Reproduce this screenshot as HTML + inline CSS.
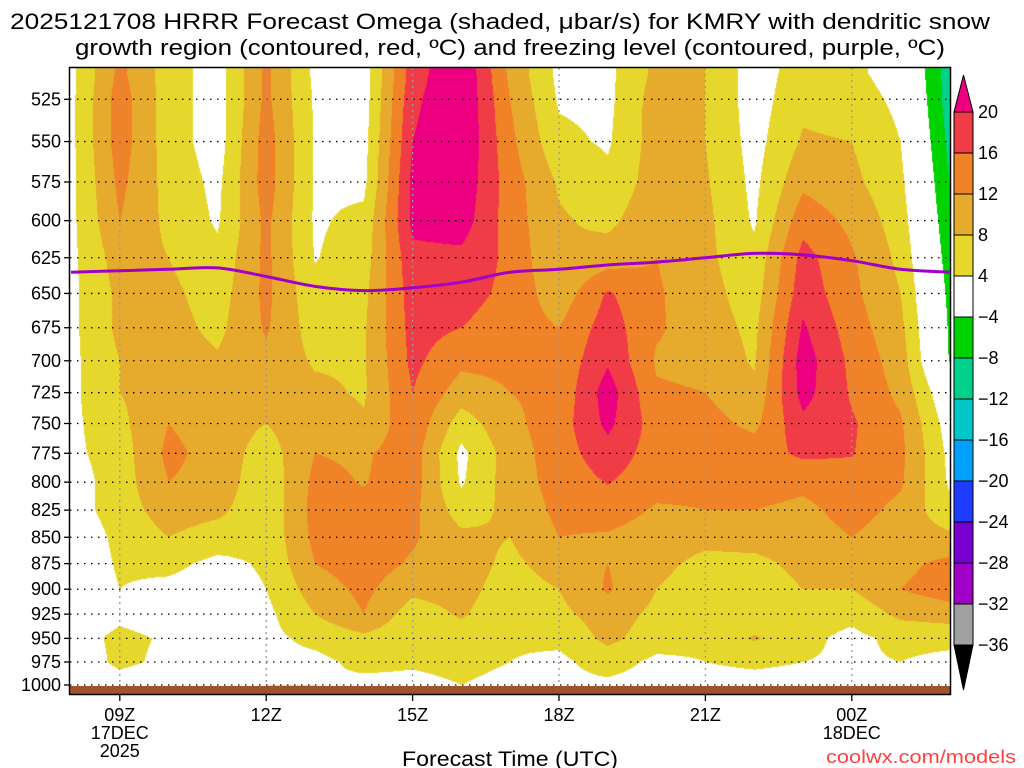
<!DOCTYPE html>
<html><head><meta charset="utf-8"><style>
html,body{margin:0;padding:0;background:#fff;}
#wrap{position:relative;width:1024px;height:768px;overflow:hidden;}
canvas{position:absolute;left:0;top:0;}
svg{position:absolute;left:0;top:0;}
text{font-family:"Liberation Sans Narrow","Liberation Sans",sans-serif;}
</style></head><body>
<div id="wrap">
<canvas id="cv" width="1024" height="768"></canvas>
<svg id="sv" width="1024" height="768"></svg>
</div>
<script>
// ---- data ----
const hours = [8,9,10,11,12,13,14,15,16,17,18,19,20,21,22,23,24,25,26];
const pressures = [510,525,550,575,600,625,650,675,700,725,750,775,800,825,850,875,900,925,950,975,1000];
const omegaCols = [
 [3,3,3,3,3,3,3,3,3,3,3,3,2,2,1,1,1,2,2,1,1],
 [13,14,14,13,12,10,9,9,8,8,7,6,6,6,5,4.5,4,3,5,5,2],
 [6,6,6,6.5,7,8,9,9.5,10,10,12,13,12,10,8,5,3,2,3.5,3,1],
 [2,2,2,3,3.5,5,6,7,8.5,9.5,10,10.5,10.5,9,6,3,2,1,1,2,3],
 [13,13,14,14,13,13,13,12.5,11,10,8,6,5,5,5,4.5,4,3,3,3,4],
 [3,3.5,3.5,3.5,3.5,3.8,5,6,7.5,9,11,12,13,13.5,13,12,10,8,5,3,4],
 [2,2,2.5,3,5,6,7,7.5,7.5,7.5,8.5,11.5,11.8,13,14,14,13,12,7,5,3],
 [18,19,20,21,21,19,18,17.5,17,16,15,14,14,13,12.5,11.5,9,6,5,4.5,3],
 [24,24,24,23,22,19,17.5,16,13,10,6,3,3.5,6,9,10,9.5,8.5,6,5,4],
 [11,12,13,14,14,15,15,14,13,12,11,10,10,9,8,7,6,5,4.5,4,3],
 [3,3.5,5,7.5,8.5,8,9.5,12,13,13,14,14,13.5,13,12,10,8,7,5,3,3],
 [3,3,3.5,5,7,10,16.5,18,19.5,22,21,18.5,16.2,14,11.5,12,12.5,10,9,6,3],
 [9,10,10,10,11,12,12.5,12.5,11.5,12.5,14,14,13.5,11.5,10,9,8,7,6,3,2],
 [8,8,8,8.5,9,9,9.5,10,11,12,13.5,14,13,12,9,7,6,6,5,4,3],
 [2,2,2.5,3,3.5,5,6,7,7.5,9,11,14,14,12,9.5,7,6,5,8.5,4.5,3],
 [6,7,8.5,11,14.5,17.5,18.5,20.5,22,21.5,19,16.8,13,11,10,9,8,6,5,4,3],
 [5,6,8,9,11,12.5,13,14,15,15.5,16.5,16.2,14.5,13.5,12,10,8,5,3,3.5,3],
 [2,3,4,5,6,7,8,9,10,11,12.5,13,12.5,11,10,11,12,9,5,4,2],
 [-10,-10,-9,-8,-7,-6,-5,-4.5,-4.2,0,2,3,3.5,5,9,13,14,10,5,3,3]
];
const freezeLevel = [635,634,633,632,638,645,648,646,642,635,633,630,628,625,622,623,627,633,635];
const yTicks = [525,550,575,600,625,650,675,700,725,750,775,800,825,850,875,900,925,950,975,1000];
const xTickHours = [9,12,15,18,21,24];
const xTickLabels = [["09Z","17DEC","2025"],["12Z"],["15Z"],["18Z"],["21Z"],["00Z","18DEC"]];
const cbLevels = [20,16,12,8,4,-4,-8,-12,-16,-20,-24,-28,-32,-36];
const cbColors = ["#f03c46","#f08228","#e6aa2d","#e6d72d","#ffffff","#00d200","#00d28c","#00c8c8","#00a0ff","#1e3cff","#7800d2","#a000c8","#a0a0a0"];

// ---- axes ----
const X0=70, X1=950, Y0=68, YB=686;
const xs = h => 71 + (h-8)*48.8;
const ys = p => 685 - (Math.log(1000)-Math.log(p))*909;
const invX = x => 8 + (x-71)/48.8;
const invY = y => Math.exp(Math.log(1000) - (685-y)/909);

function colorFor(v){
  if(v>=20) return [236,0,128];
  if(v>=16) return [240,60,70];
  if(v>=12) return [240,130,40];
  if(v>=8) return [230,170,45];
  if(v>=4) return [230,215,45];
  if(v>=-4) return [255,255,255];
  if(v>=-8) return [0,210,0];
  if(v>=-12) return [0,210,140];
  if(v>=-16) return [0,200,200];
  return [0,160,255];
}
function valueAt(h,p){
  let fi=(h-hours[0])/(hours[1]-hours[0]);
  fi=Math.max(0,Math.min(hours.length-1.0001,fi));
  const i=Math.floor(fi), ft=fi-i;
  const lp=Math.log(p);
  let j=0;
  if(p<=pressures[0]){j=0;}
  else if(p>=pressures[pressures.length-1]){j=pressures.length-2;}
  else {while(j<pressures.length-2 && pressures[j+1]<p) j++;}
  let fp=(lp-Math.log(pressures[j]))/(Math.log(pressures[j+1])-Math.log(pressures[j]));
  fp=Math.max(0,Math.min(1,fp));
  const a=omegaCols[i][j],b=omegaCols[i][j+1],c=omegaCols[i+1][j],d=omegaCols[i+1][j+1];
  return (a*(1-fp)+b*fp)*(1-ft)+(c*(1-fp)+d*fp)*ft;
}
const cv=document.getElementById('cv'); const ctx=cv.getContext('2d');
const img=ctx.createImageData(X1-X0,YB-Y0);
for(let y=Y0;y<YB;y++){
  const p=invY(y+0.5);
  for(let x=X0;x<X1;x++){
    const v=valueAt(invX(x+0.5),p);
    const c=colorFor(v);
    const k=((y-Y0)*(X1-X0)+(x-X0))*4;
    img.data[k]=c[0];img.data[k+1]=c[1];img.data[k+2]=c[2];img.data[k+3]=255;
  }
}
ctx.putImageData(img,X0,Y0);

// ---- svg overlay ----
const NS="http://www.w3.org/2000/svg";
const sv=document.getElementById('sv');
function mk(tag,attrs,parent){const e=document.createElementNS(NS,tag);for(const k in attrs)e.setAttribute(k,attrs[k]);(parent||sv).appendChild(e);return e;}
function txt(s,attrs,parent){const e=mk('text',attrs,parent);e.textContent=s;return e;}

const g0=mk('rect',{x:X0,y:686,width:X1-X0,height:8,fill:'#a0522d'});



const grid=mk('g',{});


yTicks.forEach(p=>{
  const l=mk('line',{x1:X0,x2:X1,y1:ys(p),y2:ys(p),stroke:'#000','stroke-width':1.3,'stroke-dasharray':'1.5,5.5'},grid);
  
  
});
xTickHours.forEach(h=>{
  const l=mk('line',{x1:xs(h),x2:xs(h),y1:Y0,y2:686,stroke:'#999','stroke-width':1.3,'stroke-dasharray':'2,4'},grid);
  
  
});

const fpts=hours.map((h,i)=>[xs(h),ys(freezeLevel[i])]);
let d='M'+fpts[0][0].toFixed(1)+','+fpts[0][1].toFixed(1);
for(let i=0;i<fpts.length-1;i++){
  const p0=fpts[Math.max(0,i-1)],p1=fpts[i],p2=fpts[i+1],p3=fpts[Math.min(fpts.length-1,i+2)];
  const c1=[p1[0]+(p2[0]-p0[0])/6,p1[1]+(p2[1]-p0[1])/6];
  const c2=[p2[0]-(p3[0]-p1[0])/6,p2[1]-(p3[1]-p1[1])/6];
  d+='C'+c1[0].toFixed(1)+','+c1[1].toFixed(1)+' '+c2[0].toFixed(1)+','+c2[1].toFixed(1)+' '+p2[0].toFixed(1)+','+p2[1].toFixed(1);
}
const fl=mk('path',{d:d,fill:'none',stroke:'#a000c8','stroke-width':3,'stroke-linejoin':'round'});



const fr=mk('rect',{x:69.5,y:67.5,width:881,height:627,fill:'none',stroke:'#000','stroke-width':1.5});



const ya=mk('g',{});


yTicks.forEach(p=>{
  mk('line',{x1:64,x2:70,y1:ys(p),y2:ys(p),stroke:'#000','stroke-width':1.3},ya);
  const t=txt(String(p),{x:61,y:ys(p)+6,'font-size':18,'text-anchor':'end',fill:'#000'},ya);
  
  
});
const xa=mk('g',{});


xTickHours.forEach((h,i)=>{
  mk('line',{x1:xs(h),x2:xs(h),y1:694,y2:701,stroke:'#000','stroke-width':1.3},xa);
  xTickLabels[i].forEach((s,k)=>{
    const t=txt(s,{x:xs(h),y:721+k*18,'font-size':18,'text-anchor':'middle',fill:'#000'},xa);
    
    
  });
});
const xt=txt('Forecast Time (UTC)',{x:510,y:766,'font-size':21,'text-anchor':'middle',fill:'#000',textLength:216,lengthAdjust:'spacingAndGlyphs'});


const wm=txt('coolwx.com/models',{x:826,y:763,'font-size':18,fill:'#ff4040',textLength:190,lengthAdjust:'spacingAndGlyphs'});



const t1=txt('2025121708 HRRR Forecast Omega (shaded, μbar/s) for KMRY with dendritic snow',{x:500,y:29,'font-size':22,'text-anchor':'middle',fill:'#000',textLength:980,lengthAdjust:'spacingAndGlyphs'});


const t2=txt('growth region (contoured, red, ºC) and freezing level (contoured, purple, ºC)',{x:510,y:55,'font-size':22,'text-anchor':'middle',fill:'#000',textLength:870,lengthAdjust:'spacingAndGlyphs'});



const cb=mk('g',{});


const CBX=954, CBW=19, CBT=112, CBS=41;
const cbTopArrow=mk('polygon',{points:`${CBX},${CBT} ${CBX+CBW},${CBT} ${CBX+CBW/2},${CBT-37}`,fill:'#ec0080',stroke:'#000','stroke-width':1},cb);


cbColors.forEach((c,i)=>{
  const r=mk('rect',{x:CBX,y:CBT+i*CBS,width:CBW,height:CBS,fill:c,stroke:'#000','stroke-width':1},cb);
  
  
});
const cbBotY=CBT+cbColors.length*CBS;
const cbBotArrow=mk('polygon',{points:`${CBX},${cbBotY} ${CBX+CBW},${cbBotY} ${CBX+CBW/2},${cbBotY+45}`,fill:'#000',stroke:'#000','stroke-width':1},cb);


cbLevels.forEach((L,i)=>{
  const s=L<0?'\u2212'+Math.abs(L):String(L);
  const t=txt(s,{x:978,y:CBT+i*CBS+6,'font-size':18,fill:'#000'},cb);
  
  
});
</script>
</body></html>
